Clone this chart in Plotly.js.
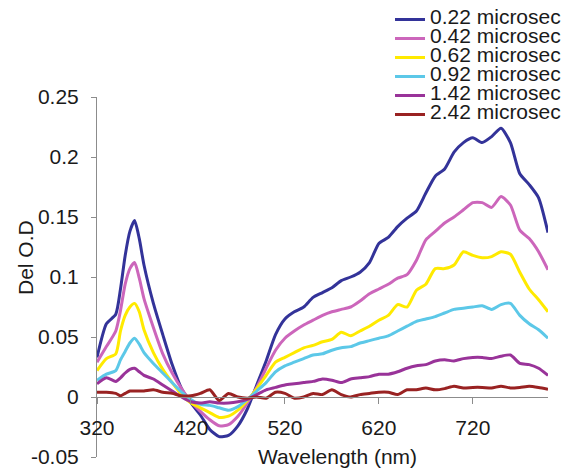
<!DOCTYPE html>
<html>
<head>
<meta charset="utf-8">
<script src="https://cdn.plot.ly/plotly-3.0.1.min.js"></script>
<style>html,body{margin:0;padding:0;background:#fff;}#chart{width:566px;height:468px;}</style>
</head>
<body>
<div id="chart"></div>
<script>
var wavelength = [320,330,340,345,350,355,360,365,370,380,390,400,410,420,430,440,450,460,470,480,490,500,510,520,530,540,550,560,570,580,590,600,610,620,630,640,650,660,670,680,690,700,710,720,730,740,750,760,770,780,790,800];

var od_022 = [0.033,0.061,0.069,0.090,0.118,0.138,0.147,0.132,0.110,0.078,0.052,0.027,0.007,-0.005,-0.015,-0.027,-0.033,-0.032,-0.024,-0.010,0.010,0.030,0.052,0.065,0.071,0.075,0.083,0.087,0.091,0.097,0.100,0.104,0.112,0.128,0.133,0.142,0.149,0.155,0.170,0.184,0.190,0.204,0.212,0.216,0.212,0.217,0.224,0.212,0.186,0.177,0.166,0.137];
var od_042 = [0.029,0.042,0.055,0.072,0.094,0.107,0.112,0.099,0.082,0.058,0.036,0.020,0.007,-0.004,-0.012,-0.019,-0.024,-0.023,-0.016,-0.005,0.008,0.024,0.039,0.049,0.055,0.060,0.064,0.068,0.071,0.073,0.075,0.080,0.086,0.090,0.094,0.099,0.102,0.114,0.131,0.138,0.145,0.150,0.156,0.162,0.162,0.158,0.167,0.160,0.139,0.132,0.121,0.106];
var od_062 = [0.022,0.032,0.036,0.055,0.068,0.075,0.078,0.071,0.056,0.037,0.023,0.012,0.002,-0.005,-0.009,-0.013,-0.017,-0.016,-0.011,-0.003,0.007,0.018,0.029,0.033,0.037,0.041,0.043,0.046,0.048,0.054,0.051,0.055,0.059,0.064,0.068,0.077,0.075,0.089,0.094,0.107,0.107,0.110,0.121,0.118,0.116,0.117,0.121,0.119,0.104,0.090,0.081,0.071];
var od_092 = [0.014,0.019,0.022,0.031,0.038,0.045,0.049,0.044,0.037,0.028,0.020,0.012,0.004,-0.002,-0.006,-0.007,-0.009,-0.011,-0.008,-0.002,0.005,0.012,0.021,0.026,0.029,0.032,0.035,0.036,0.039,0.041,0.042,0.045,0.047,0.049,0.051,0.055,0.059,0.063,0.065,0.067,0.070,0.073,0.074,0.075,0.076,0.073,0.077,0.078,0.068,0.061,0.056,0.049];
var od_142 = [0.011,0.016,0.013,0.016,0.020,0.023,0.024,0.021,0.018,0.015,0.010,0.005,0.000,-0.004,-0.005,-0.004,-0.005,-0.005,-0.004,-0.002,0.002,0.006,0.008,0.010,0.011,0.012,0.013,0.015,0.014,0.012,0.015,0.016,0.017,0.019,0.019,0.021,0.024,0.026,0.027,0.030,0.031,0.030,0.032,0.033,0.033,0.032,0.034,0.035,0.028,0.027,0.024,0.018];
var od_242 = [0.004,0.004,0.003,0.001,0.003,0.005,0.005,0.005,0.005,0.006,0.004,0.003,0.001,0.001,0.003,0.006,-0.003,0.003,0.000,-0.001,0.000,-0.001,0.004,0.003,-0.001,0.000,0.003,0.002,0.006,0.002,0.000,0.002,0.003,0.004,0.004,0.002,0.006,0.006,0.0075,0.006,0.007,0.009,0.0075,0.008,0.008,0.0075,0.009,0.0075,0.008,0.009,0.008,0.0065];

var seriesNames = ["0.22 microsec","0.42 microsec","0.62 microsec","0.92 microsec","1.42 microsec","2.42 microsec"];
var seriesValues = [od_022, od_042, od_062, od_092, od_142, od_242];
var seriesColors = ["#333399","#cc66bb","#ffea00","#5cc8e8","#993399","#992222"];

var yTickVals = [-0.05,0,0.05,0.1,0.15,0.2,0.25];
var yTickText = ["-0.05","0","0.05","0.1","0.15","0.2","0.25"];
var xTickVals = [320,420,520,620,720];
var xTickText = ["320","420","520","620","720"];

var FONT = "Liberation Sans, Arial, Helvetica, sans-serif";
var FS = 21;

var traces = seriesValues.map(function(v, i){
  return {
    x: wavelength, y: v, type: "scatter", mode: "lines",
    name: '<span style="font-size:' + FS + 'px">' + seriesNames[i] + '</span>',
    line: {color: seriesColors[i], width: 3, shape: "spline", smoothing: 0.6},
    hoverinfo: "skip"
  };
});

var layout = {
  width: 566, height: 468,
  margin: {l: 97, r: 18, t: 97, b: 11, autoexpand: false},
  paper_bgcolor: "#fff", plot_bgcolor: "#fff",
  font: {family: FONT, size: FS, color: "#1a1a1a"},
  showlegend: true,
  legend: {
    x: 0.6497, xanchor: "left", y: 1.2556, yanchor: "top",
    font: {family: FONT, size: 12, color: "#1a1a1a"},
    bgcolor: "rgba(0,0,0,0)", borderwidth: 0,
    tracegroupgap: 0
  },
  xaxis: {
    range: [320, 800], anchor: "free", position: 1/6,
    tickmode: "array", tickvals: xTickVals, ticktext: xTickText,
    showgrid: false, zeroline: false,
    showline: true, linecolor: "#8c8c8c", linewidth: 1,
    ticks: "outside", ticklen: 6, tickcolor: "#8c8c8c",
    ticklabelstandoff: 6, ticklabeloverflow: "allow",
    tickfont: {family: FONT, size: FS, color: "#1a1a1a"}
  },
  yaxis: {
    range: [-0.05, 0.25],
    tickmode: "array", tickvals: yTickVals, ticktext: yTickText,
    showgrid: false, zeroline: false,
    showline: true, linecolor: "#8c8c8c", linewidth: 1,
    ticks: "outside", ticklen: 5, tickcolor: "#8c8c8c",
    ticklabelstandoff: 8, ticklabeloverflow: "allow",
    tickfont: {family: FONT, size: FS, color: "#1a1a1a"}
  },
  annotations: [
    {text: "Wavelength (nm)", xref: "paper", yref: "paper", x: (337-97)/451, y: (457-456)/360,
     xanchor: "center", yanchor: "middle", showarrow: false,
     font: {family: FONT, size: FS, color: "#1a1a1a"}},
    {text: "Del O.D", xref: "paper", yref: "paper", x: (25-97)/451, y: (457-258)/360,
     xanchor: "center", yanchor: "middle", showarrow: false, textangle: -90,
     font: {family: FONT, size: FS, color: "#1a1a1a"}}
  ]
};

Plotly.newPlot("chart", traces, layout, {staticPlot: true, displayModeBar: false});
</script>
</body>
</html>
